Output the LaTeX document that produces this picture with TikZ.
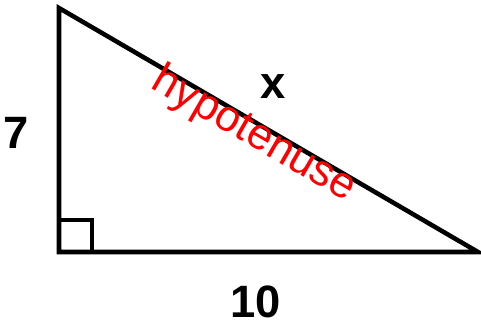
\documentclass[tikz,border=0pt]{standalone}
\usepackage{fontspec}
\setmainfont{Liberation Sans}
\usepackage{xcolor}
\usetikzlibrary{positioning, calc}

\definecolor{penred}{RGB}{255,0,0}

\tikzset{
    side/.style={line width=3.4pt, line join=miter, line cap=rect},
    sidelabel/.style={font=\bfseries\fontsize{34}{34}\selectfont, inner sep=0pt},
    scribble/.style={font=\fontsize{33}{33}\selectfont, text=penred, inner sep=0pt}
}

\begin{document}
\begin{tikzpicture}[x=0.75pt, y=-0.75pt]
    \useasboundingbox (0,0) rectangle (481,326);

    % --- Triangle Corners ---
    \coordinate (top) at (59,8);
    \coordinate (corner) at (59,252);
    \coordinate (tip) at (478,252);

    % --- Sides ---
    \draw[side] (top) -- (corner) -- (tip) -- cycle;

    % --- Right Angle Mark ---
    \draw[side] ($(corner)+(0,-32)$) -- ($(corner)+(33,-32)$) -- ($(corner)+(33,0)$);

    % --- Side Labels ---
    \node[sidelabel] (short) at (16,133) {7};
    \node[sidelabel] (long) at (256,302) {10};
    \node[sidelabel] (hyp) at (273,87) {x};

    % --- Handwritten Note ---
    \node[scribble, rotate=-30] (note) at (254,135) {hypotenuse};

\end{tikzpicture}
\end{document}
